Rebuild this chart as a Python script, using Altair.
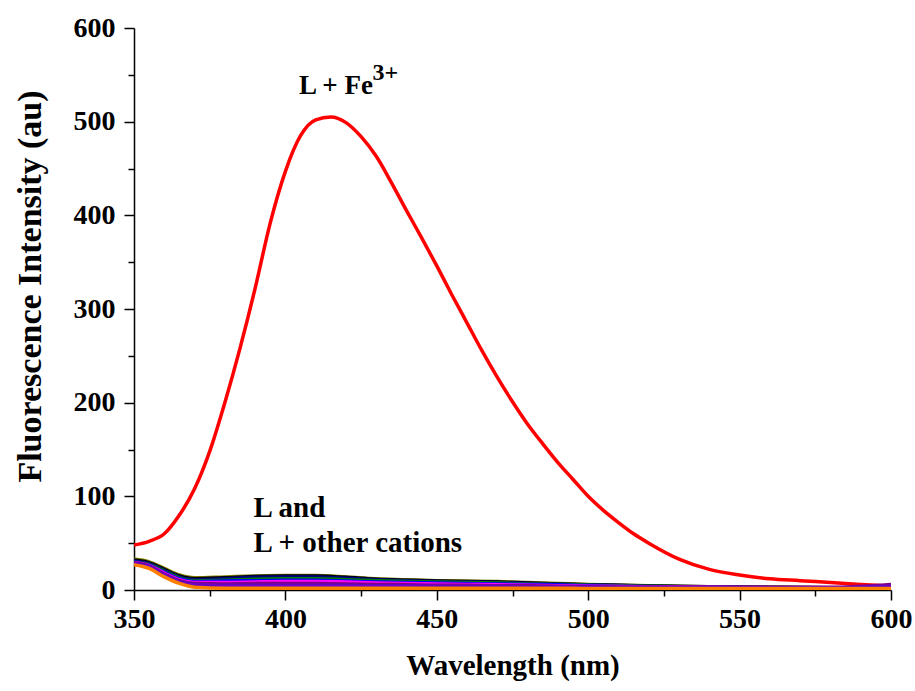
import altair as alt
import pandas as pd

# Red curve: L + Fe3+
wl_fe = [350, 355, 360, 365, 370, 375, 380, 385, 390, 395, 400, 405, 410, 415,
         420, 425, 430, 435, 440, 445, 450, 455, 460, 465, 470, 475, 480, 485,
         490, 495, 500, 505, 510, 515, 520, 530, 540, 550, 560, 570, 580, 590, 600]
int_fe = [48, 52, 60, 80, 108, 148, 200, 258, 322, 392, 447, 485, 502, 505,
          499, 484, 463, 435, 405, 376, 346, 315, 285, 255, 227, 201, 177, 156,
          136, 118, 100, 85, 72, 60, 50, 33, 22, 16, 12, 10, 8, 6, 4]

# L and L + other cations
wl_other = [350, 355, 360, 365, 370, 380, 390, 400, 410, 420, 430, 440, 450,
            460, 470, 480, 490, 500, 520, 540, 560, 580, 600]
other_names = ["olive", "black", "navy", "green", "blue", "magenta", "purple", "violet", "orange"]
other_colors = ["#808000", "#000000", "#000080", "#008000", "#0000ff", "#ff00ff", "#800080", "#6a00c8", "#ff8000"]
other_values = [
    [33, 30, 23, 16, 13, 14, 15, 15.5, 15.5, 14, 12, 11, 10, 9.5, 9, 8, 7, 6, 4.5, 3.5, 3, 2.5, 2.5],
    [32, 29, 22, 15, 12, 13, 14.5, 15, 15, 13.5, 11.5, 10.5, 9.5, 9, 8.5, 7.5, 6.5, 5.5, 4.5, 3.5, 3, 2.5, 2],
    [31, 28, 21, 14, 11, 12, 13.5, 14, 14, 12.5, 11, 10, 9, 8.5, 8, 7, 6, 5.5, 4, 3, 2.5, 2, 2],
    [30, 27, 20, 13, 10, 10.5, 11.5, 12, 12, 11, 10, 9, 8.5, 8, 7.5, 6.5, 6, 5, 4, 3, 2.5, 2, 2],
    [30, 26.5, 19, 12, 9, 9.5, 10, 10.5, 10.5, 9.5, 8.5, 8, 7.5, 7, 6.5, 6, 5.5, 4.5, 3.5, 3, 2.5, 2, 2],
    [29, 26, 18, 11, 8, 8, 8.5, 9, 9, 8.5, 7.5, 7, 6.5, 6, 5.5, 5, 4.5, 4, 3.5, 3, 2.5, 2, 3],
    [29, 25.5, 17, 10, 7, 6.5, 7, 7, 7, 6.5, 6, 5.5, 5, 5, 4.5, 4.5, 4, 3.5, 3, 3, 3, 3, 6],
    [28, 25, 16, 9, 6, 5, 5, 5, 5, 5, 4.5, 4.5, 4, 4, 4, 3.5, 3.5, 3, 3, 2.5, 2.5, 2.5, 4],
    [27, 23, 14, 7, 3, 2, 2, 2, 2, 2, 2, 2, 2, 2, 2, 2, 2, 1.5, 1.5, 1.5, 1.5, 1.5, 1.5],
]

x_ticks = [350, 375, 400, 425, 450, 475, 500, 525, 550, 575, 600]
y_ticks = [0, 50, 100, 150, 200, 250, 300, 350, 400, 450, 500, 550, 600]

# Annotations
fe_text = ["L + Fe"]
fe_x = [404.5]
fe_y = [530]
sup_text = ["3+"]
sup_x = [428.8]
sup_y = [544]
ann_text = ["L and", "L + other cations"]
ann_x = [389.5, 389.5]
ann_y = [78, 40.5]

FONT = "Liberation Serif"

rows = []
for name, vals in zip(other_names, other_values):
    for w, v in zip(wl_other, vals):
        rows.append({"wl": w, "val": v, "series": name})
df_other = pd.DataFrame(rows)
df_fe = pd.DataFrame({"wl": wl_fe, "val": int_fe})
df_fetxt = pd.DataFrame({"t": fe_text, "x": fe_x, "y": fe_y})
df_sup = pd.DataFrame({"t": sup_text, "x": sup_x, "y": sup_y})
df_ann = pd.DataFrame({"t": ann_text, "x": ann_x, "y": ann_y})

xscale = alt.Scale(domain=[350, 600], nice=False, zero=False)
yscale = alt.Scale(domain=[0, 600], nice=False)

x_axis = alt.Axis(
    title="Wavelength (nm)", values=x_ticks,
    labelExpr="datum.value % 50 == 0 ? datum.label : ''",
    tickSize={"condition": {"test": "datum.value % 50 == 0", "value": 10}, "value": 6},
    grid=False, labelFont=FONT, labelFontSize=28, labelFontWeight="bold",
    labelColor="#000", titleFont=FONT, titleFontSize=29, titleFontWeight="bold",
    titleColor="#000", domainColor="#000", tickColor="#000", domainWidth=1.5,
    tickWidth=1.5, labelPadding=5, titlePadding=18, labelFlush=False,
)
y_axis = alt.Axis(
    title="Fluorescence Intensity (au)", values=y_ticks,
    labelExpr="datum.value % 100 == 0 ? datum.label : ''",
    tickSize={"condition": {"test": "datum.value % 100 == 0", "value": 10}, "value": 6},
    grid=False, labelFont=FONT, labelFontSize=28, labelFontWeight="bold",
    labelColor="#000", titleFont=FONT, titleFontSize=34, titleFontWeight="bold",
    titleColor="#000", domainColor="#000", tickColor="#000", domainWidth=1.5,
    tickWidth=1.5, labelPadding=9, titlePadding=26, labelFlush=False,
    titleY=258,
)

others = alt.Chart(df_other).mark_line(strokeWidth=3.5, clip=True, interpolate="monotone").encode(
    x=alt.X("wl:Q", scale=xscale, axis=x_axis),
    y=alt.Y("val:Q", scale=yscale, axis=y_axis),
    color=alt.Color("series:N", scale=alt.Scale(domain=other_names, range=other_colors), legend=None),
    order=alt.Order("wl:Q"),
)

fe = alt.Chart(df_fe).mark_line(strokeWidth=3.5, color="#ff0000", clip=True, interpolate="monotone").encode(
    x=alt.X("wl:Q", scale=xscale),
    y=alt.Y("val:Q", scale=yscale),
)

fetxt = alt.Chart(df_fetxt).mark_text(
    align="left", baseline="alphabetic", font=FONT, fontSize=27, fontWeight="bold", color="#000"
).encode(x=alt.X("x:Q", scale=xscale), y=alt.Y("y:Q", scale=yscale), text="t:N")

sup = alt.Chart(df_sup).mark_text(
    align="left", baseline="alphabetic", font=FONT, fontSize=24, fontWeight="bold", color="#000"
).encode(x=alt.X("x:Q", scale=xscale), y=alt.Y("y:Q", scale=yscale), text="t:N")

ann = alt.Chart(df_ann).mark_text(
    align="left", baseline="alphabetic", font=FONT, fontSize=29, fontWeight="bold", color="#000"
).encode(x=alt.X("x:Q", scale=xscale), y=alt.Y("y:Q", scale=yscale), text="t:N")

chart = alt.layer(fe, others, fetxt, sup, ann).properties(
    width=757, height=562,
    autosize=alt.AutoSizeParams(type="none"),
    padding={"left": 134, "top": 28, "right": 24, "bottom": 101},
    background="#ffffff",
).configure_view(stroke=None)

chart.save("out.html", embed_options={"renderer": "svg", "actions": False})
